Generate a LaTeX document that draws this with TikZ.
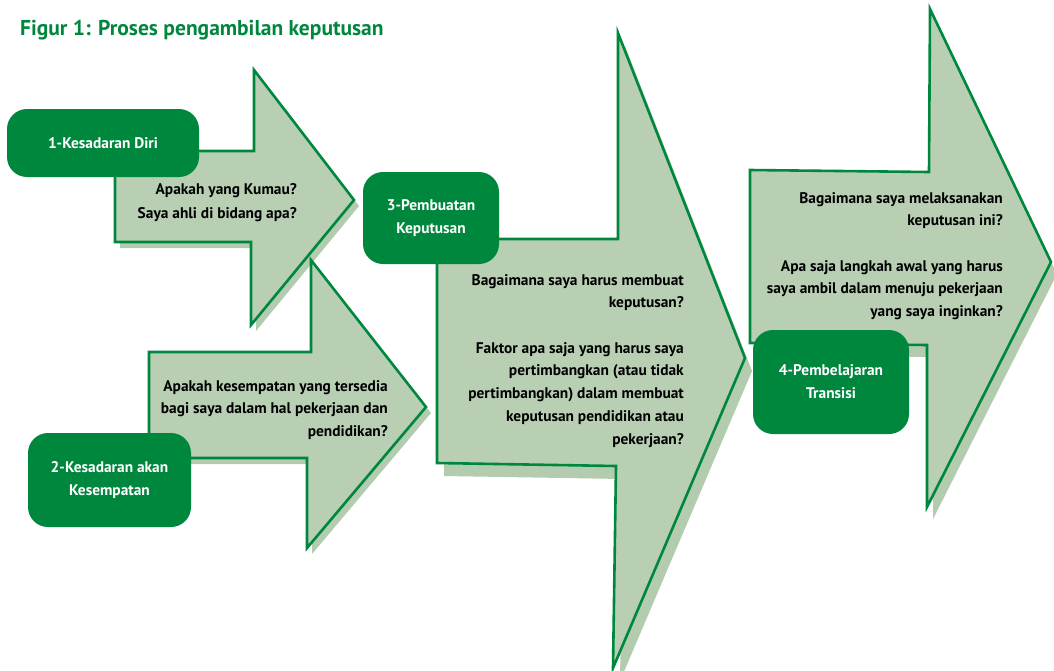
\documentclass[tikz,border=0pt]{standalone}
\usepackage{fontspec}
\setmainfont{PT Sans}
\definecolor{dkgreen}{HTML}{00873E}
\definecolor{ltgreen}{HTML}{B8CFB4}
\definecolor{shgreen}{HTML}{B3CBAF}
\tikzset{
  arrowbody/.style={fill=ltgreen, draw=dkgreen, line width=2.6pt, line join=miter},
  arrowshadow/.style={fill=shgreen},
  greenbox/.style={fill=dkgreen, rounded corners=20pt, text=white, font=\bfseries\fontsize{15.4}{23}\selectfont, align=center, inner sep=0pt},
  qtext/.style={anchor=north east, align=right, inner sep=0pt, font=\bfseries\fontsize{15.4}{22.7}\selectfont, text=black},
  title/.style={anchor=west, inner sep=0pt, text=dkgreen, font=\bfseries\fontsize{21.5}{24}\selectfont}
}
\begin{document}
\begin{tikzpicture}[x=1pt,y=-1pt]
\useasboundingbox (0,0) rectangle (1054,670);
\fill[white] (0,0) rectangle (1054,670);

\node[title] (t) at (20,30) {Figur 1: Proses pengambilan keputusan};

% arrow 1
\path[arrowshadow, shift={(5,6)}] (115,151) -- (254,151) -- (254,70) -- (354,200) -- (251,325) -- (251,242) -- (115,242) -- cycle;
\path[arrowbody] (115,151) -- (254,151) -- (254,70) -- (354,200) -- (251,325) -- (251,242) -- (115,242) -- cycle;
% arrow 2
\path[arrowshadow, shift={(5,6)}] (149,352) -- (311,352) -- (311,260) -- (426,407) -- (307,548) -- (307,458) -- (149,458) -- cycle;
\path[arrowbody] (149,352) -- (311,352) -- (311,260) -- (426,407) -- (307,548) -- (307,458) -- (149,458) -- cycle;
% arrow 3
\path[arrowshadow, shift={(7,13)}] (437,239) -- (618,239) -- (618,33) -- (745,358) -- (613,668) -- (616,466) -- (437,463) -- cycle;
\path[arrowbody] (437,239) -- (618,239) -- (618,33) -- (745,358) -- (613,668) -- (616,466) -- (437,463) -- cycle;
% arrow 4
\path[arrowshadow, shift={(6,12)}] (750,170) -- (929,172) -- (930,9) -- (1051,262) -- (927,507) -- (927,345) -- (750,343) -- cycle;
\path[arrowbody] (750,170) -- (929,172) -- (930,9) -- (1051,262) -- (927,507) -- (927,345) -- (750,343) -- cycle;

% boxes
\node[greenbox, minimum width=192pt, minimum height=68pt] (b1) at (103,143) {1-Kesadaran Diri};
\node[greenbox, minimum width=163pt, minimum height=94pt] (b2) at (109.5,480) {2-Kesadaran akan\\Kesempatan};
\node[greenbox, minimum width=136pt, minimum height=92pt] (b3) at (431,218) {3-Pembuatan\\Keputusan};
\node[greenbox, minimum width=156pt, minimum height=104pt] (b4) at (831,382) {4-Pembelajaran\\Transisi};

% question texts
\node[qtext, font=\bfseries\fontsize{15.4}{24}\selectfont] (q1) at (297,183) {Apakah yang Kumau?\\Saya ahli di bidang apa?};
\node[qtext] (q2) at (388,380) {Apakah kesempatan yang tersedia\\bagi saya dalam hal pekerjaan dan\\pendidikan?};
\node[qtext] (q3) at (684,274) {Bagaimana saya harus membuat\\keputusan?\\[22.7pt]Faktor apa saja yang harus saya\\pertimbangkan (atau tidak\\pertimbangkan) dalam membuat\\keputusan pendidikan atau\\pekerjaan?};
\node[qtext] (q4) at (1003,192) {Bagaimana saya melaksanakan\\keputusan ini?\\[22.7pt]Apa saja langkah awal yang harus\\saya ambil dalam menuju pekerjaan\\yang saya inginkan?};
\end{tikzpicture}
\end{document}
